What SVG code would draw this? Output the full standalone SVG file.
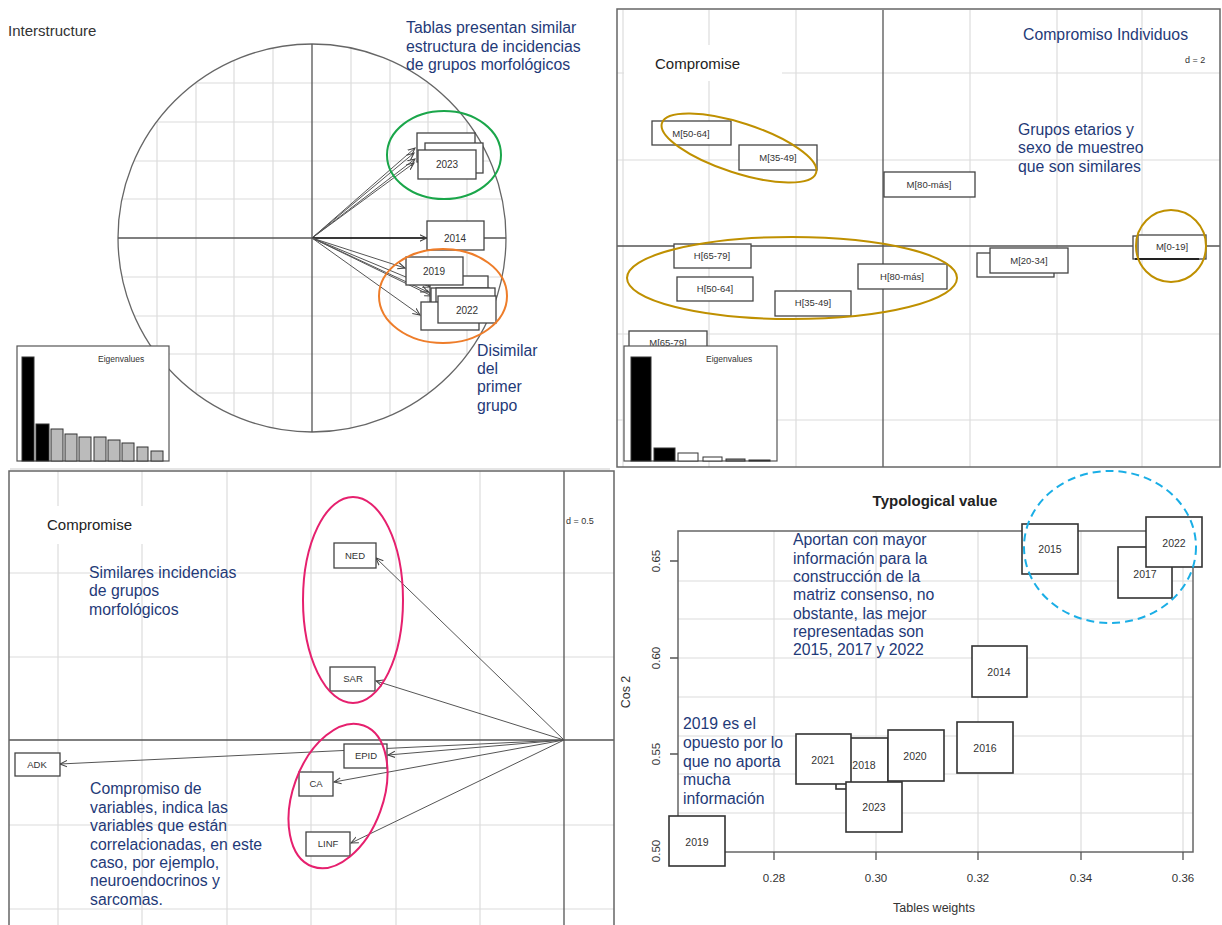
<svg xmlns="http://www.w3.org/2000/svg" width="1222" height="925" viewBox="0 0 1222 925">
  <style>
    .grid { stroke: #dcdcdc; stroke-width: 1.2; fill: none; }
    .axis { stroke: #555; stroke-width: 1.3; fill: none; }
    .frame { stroke: #666; stroke-width: 1.5; fill: none; }
    .box { fill: #fff; stroke: #444; stroke-width: 1.3; }
    .bx { fill: #fff; stroke: #333; stroke-width: 1.6; }
    .lt { font-family: "Liberation Sans", Arial, sans-serif; font-size: 9.5px; fill: #333; text-anchor: middle; }
    .yt { font-family: "Liberation Sans", Arial, sans-serif; font-size: 11.5px; fill: #333; text-anchor: middle; }
    .vt { font-family: "Liberation Sans", Arial, sans-serif; font-size: 10.5px; fill: #333; text-anchor: middle; }
    .note { font-family: "Liberation Sans", Arial, sans-serif; font-size: 15.8px; fill: #1f3a78; }
    .ttl { font-family: "Liberation Sans", Arial, sans-serif; font-size: 15px; fill: #222; }
    .small { font-family: "Liberation Sans", Arial, sans-serif; font-size: 8.5px; fill: #333; }
    .conn { stroke: #555; stroke-width: 1; fill: none; marker-end: url(#head); }
  </style>
  <defs>
    <marker id="head" viewBox="0 0 10 10" refX="9" refY="5" markerWidth="8" markerHeight="8" orient="auto" markerUnits="userSpaceOnUse">
      <path d="M0,1 L9,5 L0,9" fill="none" stroke="#444" stroke-width="1.3"/>
    </marker>
  </defs>
  <rect width="1222" height="925" fill="#fff"/>

  <!-- ============ Interstructure (top left) ============ -->
  <g id="interstructure">
    <text class="ttl" x="8" y="36" style="fill:#333">Interstructure</text>
    <!-- grid lines trimmed to the correlation circle (r = 194) -->
    <path class="grid" d="M157,121.3V354.7 M196,82.5V393.5 M234,60.4V415.6 M273,48V428 M351,48V428 M390,60.4V415.6 M428,82.5V393.5 M467,121.3V354.7
                          M195.3,83H428.7 M156.5,122H467.5 M134.4,161H489.6 M122,199H502 M122,277H502 M134.4,316H489.6 M156.5,354H467.5 M195.3,393H428.7"/>
    <circle cx="312" cy="238" r="194" fill="none" stroke="#666" stroke-width="1.3"/>
    <path class="axis" d="M312,44V432 M118,238H506"/>
    <line x1="10" y1="469" x2="610" y2="469" stroke="#ccc" stroke-width="1.2"/>
  </g>

  <g id="interstructure-arrows">
    <line class="conn" x1="312" y1="238" x2="415" y2="148"/>
    <line class="conn" x1="312" y1="238" x2="414" y2="153"/>
    <line class="conn" x1="312" y1="238" x2="415" y2="159"/>
    <line class="conn" x1="312" y1="238" x2="414" y2="163"/>
    <line class="conn" x1="312" y1="238" x2="427" y2="238" style="stroke:#222;stroke-width:1.4"/>
    <line class="conn" x1="312" y1="238" x2="405" y2="268"/>
    <line class="conn" x1="312" y1="238" x2="430" y2="287"/>
    <line class="conn" x1="312" y1="238" x2="428" y2="292"/>
    <line class="conn" x1="312" y1="238" x2="432" y2="296"/>
    <line class="conn" x1="312" y1="238" x2="420" y2="315"/>
  </g>

  <g id="is-2018"><rect class="box" x="417" y="133" width="58" height="29"/><text class="lt" x="446" y="151" style="font-size:10px">2018</text></g>
  <g id="is-back1"><rect class="box" x="425" y="143" width="58" height="30"/></g>
  <g id="is-2023"><rect class="box" x="418" y="150" width="58" height="29"/><text class="lt" x="447" y="168" style="font-size:10px">2023</text></g>
  <g id="is-2014"><rect class="box" x="427" y="221" width="57" height="29"/><text class="lt" x="455" y="242" style="font-size:10px">2014</text></g>
  <g id="is-back2"><rect class="box" x="430" y="276" width="58" height="28"/></g>
  <g id="is-back3"><rect class="box" x="431" y="288" width="58" height="28"/></g>
  <g id="is-back4"><rect class="box" x="436" y="288" width="59" height="28"/></g>
  <g id="is-back5"><rect class="box" x="421" y="302" width="58" height="28"/></g>
  <g id="is-2019"><rect class="box" x="406" y="257" width="57" height="28"/><text class="lt" x="434" y="275" style="font-size:10px">2019</text></g>
  <g id="is-2022"><rect class="box" x="438" y="296" width="58" height="27"/><text class="lt" x="467" y="314" style="font-size:10px">2022</text></g>

  <g id="is-eigen">
    <rect x="17" y="346" width="152" height="115" fill="#fff" stroke="#555" stroke-width="1.2"/>
    <text class="small" x="98" y="362">Eigenvalues</text>
    <g stroke="#333" stroke-width="1">
      <rect x="22" y="357" width="12" height="104" fill="#000"/>
      <rect x="36" y="424" width="13" height="37" fill="#000"/>
      <rect x="51" y="429" width="12" height="32" fill="#bbb"/>
      <rect x="65" y="434" width="12" height="27" fill="#bbb"/>
      <rect x="79" y="437" width="12" height="24" fill="#bbb"/>
      <rect x="94" y="437" width="12" height="24" fill="#bbb"/>
      <rect x="108" y="440" width="12" height="21" fill="#bbb"/>
      <rect x="122" y="443" width="12" height="18" fill="#bbb"/>
      <rect x="137" y="447" width="11" height="14" fill="#bbb"/>
      <rect x="151" y="451" width="12" height="10" fill="#bbb"/>
    </g>
  </g>

  <g id="is-group-similar">
    <ellipse cx="444" cy="155" rx="57" ry="44" fill="none" stroke="#1aa64a" stroke-width="2"/>
    <text class="note" x="406" y="33">Tablas presentan similar</text>
    <text class="note" x="406" y="52">estructura de incidencias</text>
    <text class="note" x="406" y="70">de grupos morfológicos</text>
  </g>
  <g id="is-group-dissimilar">
    <ellipse cx="443" cy="296" rx="64" ry="47" fill="none" stroke="#ee7d2a" stroke-width="2"/>
    <text class="note" x="477" y="356">Disimilar</text>
    <text class="note" x="477" y="374">del</text>
    <text class="note" x="477" y="392">primer</text>
    <text class="note" x="477" y="411">grupo</text>
  </g>

  <!-- ============ Compromise individuals (top right) ============ -->
  <g id="compromise-individuals">
    <path class="grid" d="M623,10V467 M709,10V467 M796,10V467 M970,10V467 M1057,10V467 M1142,10V467
                          M617,73H1220 M617,160H1220 M617,334H1220 M617,420H1220"/>
    <rect x="624" y="45" width="158" height="36" fill="#fff"/>
    <path class="axis" d="M883,10V467 M617,246H1220"/>
    <rect class="frame" x="617" y="9" width="603" height="458"/>
    <text class="ttl" x="655" y="69">Compromise</text>
    <text class="small" x="1185" y="63" style="font-size:9px">d = 2</text>
    <text class="note" x="1023" y="40">Compromiso Individuos</text>
  </g>

  <g id="ci-M50-64"><rect class="box" x="652" y="121" width="79" height="24"/><text class="lt" x="691" y="137">M[50-64]</text></g>
  <g id="ci-M35-49"><rect class="box" x="739" y="145" width="78" height="25"/><text class="lt" x="778" y="161">M[35-49]</text></g>
  <g id="ci-M80"><rect class="box" x="884" y="172" width="91" height="25"/><text class="lt" x="929" y="188">M[80-más]</text></g>
  <g id="ci-H65-79"><rect class="box" x="674" y="244" width="77" height="24"/><text class="lt" x="712" y="259">H[65-79]</text></g>
  <g id="ci-H50-64"><rect class="box" x="677" y="277" width="76" height="24"/><text class="lt" x="715" y="292">H[50-64]</text></g>
  <g id="ci-H35-49"><rect class="box" x="775" y="291" width="76" height="25"/><text class="lt" x="813" y="306">H[35-49]</text></g>
  <g id="ci-H80"><rect class="box" x="858" y="264" width="89" height="25"/><text class="lt" x="902" y="280">H[80-más]</text></g>
  <g id="ci-back20"><rect class="box" x="977" y="253" width="77" height="24"/></g>
  <g id="ci-M20-34"><rect class="box" x="990" y="248" width="78" height="25"/><text class="lt" x="1029" y="264">M[20-34]</text></g>
  <g id="ci-back0"><rect class="box" x="1133" y="236" width="66" height="23"/></g>
  <g id="ci-M0-19"><rect class="box" x="1138" y="235" width="68" height="24"/><line x1="1135" y1="259" x2="1199" y2="259" stroke="#222" stroke-width="2"/><text class="lt" x="1172" y="250">M[0-19]</text></g>
  <g id="ci-M65-79"><rect class="box" x="629" y="331" width="78" height="24"/><text class="lt" x="668" y="346">M[65-79]</text></g>

  <g id="ci-eigen">
    <rect x="624" y="346" width="153" height="115" fill="#fff" stroke="#555" stroke-width="1.2"/>
    <text class="small" x="706" y="362">Eigenvalues</text>
    <g stroke="#333" stroke-width="1">
      <rect x="631" y="357" width="20" height="104" fill="#000"/>
      <rect x="654" y="448" width="21" height="13" fill="#000"/>
      <rect x="678" y="453" width="20" height="8" fill="#fff"/>
      <rect x="703" y="457" width="19" height="4" fill="#fff"/>
      <rect x="726" y="459" width="19" height="2" fill="#888"/>
      <rect x="749" y="460" width="21" height="1" fill="#333"/>
    </g>
  </g>

  <g id="ci-groups">
    <ellipse cx="739" cy="148" rx="81" ry="25" transform="rotate(18 739 148)" fill="none" stroke="#bf9000" stroke-width="2"/>
    <ellipse cx="792" cy="278" rx="165" ry="41" fill="none" stroke="#bf9000" stroke-width="2"/>
    <ellipse cx="1171" cy="246" rx="35" ry="36" fill="none" stroke="#bf9000" stroke-width="2"/>
    <text class="note" x="1018" y="135">Grupos etarios y</text>
    <text class="note" x="1018" y="153">sexo de muestreo</text>
    <text class="note" x="1018" y="172">que son similares</text>
  </g>

  <!-- ============ Compromise variables (bottom left) ============ -->
  <g id="compromise-variables">
    <path class="grid" d="M58,471V925 M142,471V925 M227,471V925 M311,471V925 M396,471V925 M480,471V925
                          M9,573H614 M9,657H614 M9,825H614 M9,909H614"/>
    <rect x="30" y="506" width="125" height="38" fill="#fff"/>
    <path class="axis" d="M564,471V925 M9,740H614"/>
    <path class="frame" d="M9,925V471H614V925"/>
    <text class="ttl" x="47" y="530">Compromise</text>
    <text class="small" x="566" y="524" style="font-size:9px">d = 0.5</text>
  </g>

  <g id="cv-arrows">
    <line class="conn" x1="564" y1="740" x2="376" y2="558"/>
    <line class="conn" x1="564" y1="740" x2="376" y2="681"/>
    <line class="conn" x1="564" y1="740" x2="388" y2="755"/>
    <line class="conn" x1="564" y1="740" x2="60" y2="764"/>
    <line class="conn" x1="564" y1="740" x2="334" y2="782"/>
    <line class="conn" x1="564" y1="740" x2="351" y2="843"/>
  </g>

  <g id="cv-NED"><rect class="box" x="334" y="543" width="42" height="25"/><text class="lt" x="355" y="559">NED</text></g>
  <g id="cv-SAR"><rect class="box" x="330" y="667" width="45" height="24"/><text class="lt" x="353" y="682">SAR</text></g>
  <g id="cv-EPID"><rect class="box" x="344" y="744" width="43" height="24"/><text class="lt" x="366" y="759">EPID</text></g>
  <g id="cv-CA"><rect class="box" x="299" y="772" width="34" height="24"/><text class="lt" x="316" y="787">CA</text></g>
  <g id="cv-LINF"><rect class="box" x="306" y="832" width="44" height="24"/><text class="lt" x="328" y="847">LINF</text></g>
  <g id="cv-ADK"><rect class="box" x="15" y="753" width="45" height="23"/><text class="lt" x="37" y="768">ADK</text></g>

  <g id="cv-groups">
    <ellipse cx="353" cy="600" rx="50" ry="103" fill="none" stroke="#e6206e" stroke-width="2"/>
    <ellipse cx="338" cy="796" rx="45" ry="75" transform="rotate(20 338 796)" fill="none" stroke="#e6206e" stroke-width="2"/>
    <text class="note" x="89" y="578">Similares incidencias</text>
    <text class="note" x="89" y="596">de grupos</text>
    <text class="note" x="89" y="615">morfológicos</text>
    <text class="note" x="90" y="794">Compromiso de</text>
    <text class="note" x="90" y="813">variables, indica las</text>
    <text class="note" x="90" y="831">variables que están</text>
    <text class="note" x="90" y="850">correlacionadas, en este</text>
    <text class="note" x="90" y="868">caso, por ejemplo,</text>
    <text class="note" x="90" y="886">neuroendocrinos y</text>
    <text class="note" x="90" y="905">sarcomas.</text>
  </g>

  <!-- ============ Typological value (bottom right) ============ -->
  <g id="typological-value">
    <text x="935" y="506" text-anchor="middle" style="font-family:'Liberation Sans',Arial,sans-serif;font-size:15px;font-weight:bold;fill:#222">Typological value</text>
    <path class="grid" d="M774,531V852 M876,531V852 M978,531V852 M1081,531V852 M1183,531V852
                          M678,581H1193 M678,619H1193 M678,658H1193 M678,697H1193 M678,736H1193 M678,774H1193 M678,813H1193"/>
    <rect x="678" y="531" width="515" height="321" fill="none" stroke="#666" stroke-width="1.5"/>
    <path d="M670,561H678 M670,658H678 M670,754H678 M670,851H678 M774,852V860 M876,852V860 M978,852V860 M1081,852V860 M1183,852V860" stroke="#555" stroke-width="1.3"/>
    <text class="yt" transform="translate(660 561) rotate(-90)">0.65</text>
    <text class="yt" transform="translate(660 658) rotate(-90)">0.60</text>
    <text class="yt" transform="translate(660 754) rotate(-90)">0.55</text>
    <text class="yt" transform="translate(660 851) rotate(-90)">0.50</text>
    <text class="yt" transform="translate(630 692) rotate(-90)" style="font-size:12.5px">Cos 2</text>
    <text class="yt" x="774" y="882">0.28</text>
    <text class="yt" x="876" y="882">0.30</text>
    <text class="yt" x="978" y="882">0.32</text>
    <text class="yt" x="1081" y="882">0.34</text>
    <text class="yt" x="1183" y="882">0.36</text>
    <text class="yt" x="934" y="912" style="font-size:12.5px">Tables weights</text>
  </g>

  <g id="tv-2015"><rect class="bx" x="1022" y="524" width="56" height="50"/><text class="vt" x="1050" y="553">2015</text></g>
  <g id="tv-2017"><rect class="bx" x="1118" y="547" width="54" height="51"/><text class="vt" x="1145" y="578">2017</text></g>
  <g id="tv-2022"><rect class="bx" x="1146" y="517" width="56" height="50"/><text class="vt" x="1174" y="547">2022</text></g>
  <g id="tv-2014"><rect class="bx" x="972" y="646" width="55" height="51"/><text class="vt" x="999" y="676">2014</text></g>
  <g id="tv-2016"><rect class="bx" x="957" y="722" width="56" height="51"/><text class="vt" x="985" y="752">2016</text></g>
  <g id="tv-2018"><rect class="bx" x="836" y="738" width="52" height="51"/><text class="vt" x="864" y="769">2018</text></g>
  <g id="tv-2020"><rect class="bx" x="888" y="730" width="56" height="51"/><text class="vt" x="915" y="760">2020</text></g>
  <g id="tv-2021"><rect class="bx" x="796" y="734" width="55" height="50"/><text class="vt" x="823" y="764">2021</text></g>
  <g id="tv-2023"><rect class="bx" x="846" y="782" width="56" height="50"/><text class="vt" x="874" y="811">2023</text></g>
  <g id="tv-2019"><rect class="bx" x="669" y="816" width="56" height="50"/><text class="vt" x="697" y="846">2019</text></g>

  <g id="tv-notes">
    <ellipse cx="1110" cy="547" rx="86" ry="76" fill="none" stroke="#1aaee6" stroke-width="2" stroke-dasharray="8 5"/>
    <text class="note" x="793" y="545">Aportan con mayor</text>
    <text class="note" x="793" y="564">información para la</text>
    <text class="note" x="793" y="582">construcción de la</text>
    <text class="note" x="793" y="600">matriz consenso, no</text>
    <text class="note" x="793" y="619">obstante, las mejor</text>
    <text class="note" x="793" y="637">representadas son</text>
    <text class="note" x="793" y="655">2015, 2017 y 2022</text>
    <text class="note" x="683" y="729">2019 es el</text>
    <text class="note" x="683" y="748">opuesto por lo</text>
    <text class="note" x="683" y="767">que no aporta</text>
    <text class="note" x="683" y="785">mucha</text>
    <text class="note" x="683" y="804">información</text>
  </g>
</svg>
